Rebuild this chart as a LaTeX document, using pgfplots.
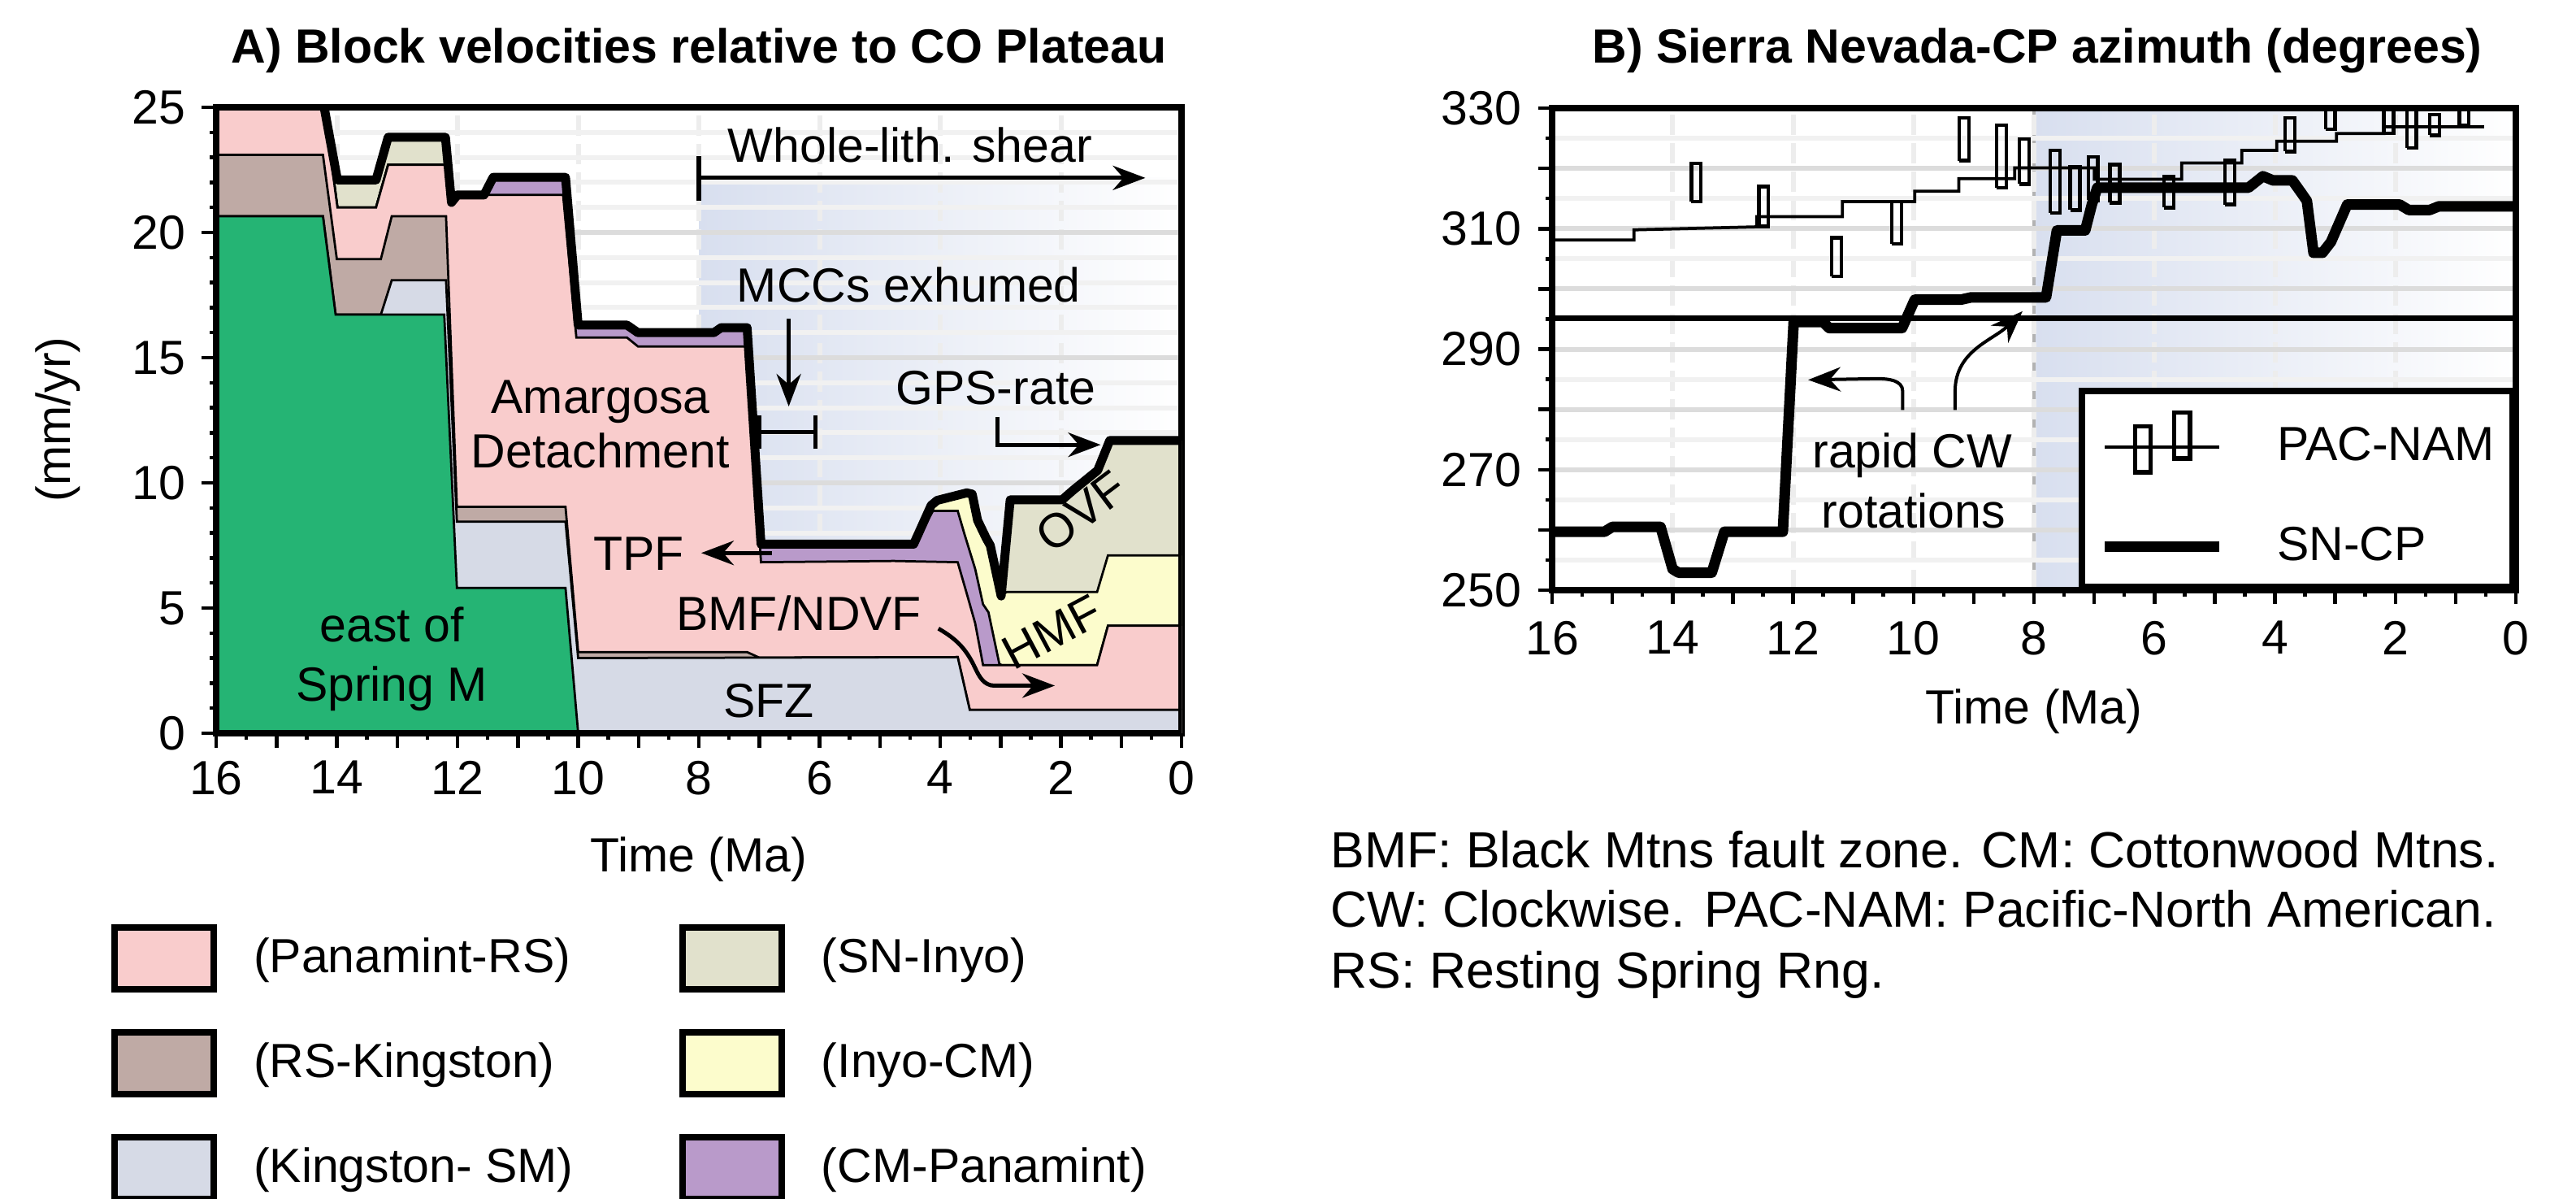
\documentclass[border=0pt]{standalone}
\usepackage{fontspec}
\setmainfont{Liberation Sans}
\usepackage{pgfplots}
\pgfplotsset{compat=1.18}
\usetikzlibrary{arrows.meta}

\definecolor{cGreen}{RGB}{37,180,116}
\definecolor{cPink}{RGB}{249,204,204}
\definecolor{cBrown}{RGB}{191,170,165}
\definecolor{cGrey}{RGB}{214,218,230}
\definecolor{cBeige}{RGB}{225,225,204}
\definecolor{cYellow}{RGB}{252,252,204}
\definecolor{cPurple}{RGB}{185,154,202}
\definecolor{cShade}{RGB}{216,223,239}
\definecolor{gridLight}{RGB}{241,241,241}
\definecolor{gridDark}{RGB}{220,220,220}
\newcommand\fs{\fontsize{11.8}{14}\selectfont}

\pgfplotsset{
  panel/.style={
    set layers,
    scale only axis, anchor=south west,
    x dir=reverse, xmin=0, xmax=16,
    xtick={0,2,...,16},
    extra x ticks={1,3,...,15}, extra x tick labels={},
    extra x tick style={grid=none},
    minor xtick={0.5,1.5,...,15.5},
    tick align=outside, xtick pos=bottom, ytick pos=left,
    major tick length=3.5pt, minor tick length=1.6pt,
    every tick/.append style={black, line width=0.9pt},
    axis line style={line width=1.6pt},
    /pgf/number format/assume math mode=true,
    xmajorgrids, ymajorgrids, yminorgrids,
    major x grid style={black!7, line width=1.2pt, dash pattern=on 5pt off 2pt},
    major y grid style={gridDark, line width=1.2pt},
    minor y grid style={gridLight, line width=1.2pt},
  },
  area/.style={forget plot, draw=black, line width=0.55pt},
}
\tikzset{arr/.style={line width=1pt, -{Stealth[length=8pt,width=6pt]}},
         arrB/.style={line width=0.8pt, -{Stealth[length=8pt,width=6pt]}}}

\begin{document}
\fs
\begin{tikzpicture}

% ---------------- Panel A ----------------
\begin{axis}[panel,
  at={(53.2pt,114.4pt)}, width=237.6pt, height=154pt,
  ymin=0, ymax=25, ytick={0,5,...,25}, minor y tick num=4,
  xticklabel style={yshift=0.8pt},
  legend image code/.code={\draw[line width=1.6pt, draw=black, #1] (0pt,-7.55pt) rectangle (24.5pt,7.55pt);},
  legend columns=2, legend cell align=left,
  legend style={at={(-0.1098,-0.3045)}, anchor=north west, draw=none, fill=none,
    inner sep=0pt, row sep=9.1pt, nodes={inner sep=0pt},
    /tikz/every odd column/.append style={column sep=9pt},
    /tikz/every even column/.append style={column sep=26pt}},
]
% whole-lithosphere shear window
\begin{pgfonlayer}{axis background}
\fill[left color=cShade, right color=white] (axis cs:8,0) rectangle (axis cs:0,22.2);
\end{pgfonlayer}

% SN-Inyo (top of stack)
\addplot[area, fill=cBeige] coordinates {
(16,25)(14.21,25)(13.99,22.1)(13.35,22.1)(13.15,23.8)(12.2,23.8)(12.1,21.2)(12.0,21.5)
(11.56,21.5)(11.41,22.2)(10.21,22.2)(10.0,16.3)(9.19,16.3)(9.01,16.0)(7.75,16.0)(7.63,16.2)
(7.2,16.2)(6.97,7.55)(4.44,7.55)(4.15,9.1)(4.05,9.3)(3.56,9.6)(3.47,9.55)(3.38,8.5)(3.24,7.8)
(3.17,7.5)(2.99,5.48)(2.84,9.32)(1.98,9.32)(1.8,9.7)(1.39,10.5)(1.19,11.69)(0,11.69)(0,0)(16,0)} -- cycle;
% Inyo-CM
\addplot[area, fill=cYellow] coordinates {
(16,25)(14.21,25)(13.99,21.0)(13.35,21.0)(13.15,22.7)(12.2,22.7)(12.1,21.2)(12.0,21.5)
(11.56,21.5)(11.41,22.2)(10.21,22.2)(10.0,16.3)(9.19,16.3)(9.01,16.0)(7.75,16.0)(7.63,16.2)
(7.2,16.2)(6.97,7.55)(4.44,7.55)(4.15,9.1)(4.05,9.3)(3.56,9.6)(3.47,9.55)(3.38,8.5)(3.24,7.8)
(3.17,7.5)(2.99,5.48)(2.9,5.64)(1.4,5.64)(1.22,7.1)(0,7.1)(0,0)(16,0)} -- cycle;
% CM-Panamint
\addplot[area, fill=cPurple] coordinates {
(16,25)(14.21,25)(13.99,21.0)(13.35,21.0)(13.15,22.7)(12.2,22.7)(12.1,21.2)(12.0,21.5)
(11.56,21.5)(11.41,22.1)(10.21,22.1)(10.0,16.2)(9.19,16.2)(9.01,15.9)(7.75,15.9)(7.63,16.1)
(7.2,16.1)(6.97,7.5)(4.44,7.5)(4.12,8.88)(3.71,8.88)(3.6,7.97)(3.42,6.56)(3.29,5.15)(3.2,4.83)
(3.02,2.77)(2.98,2.72)(1.4,2.72)(1.22,4.29)(0,4.29)(0,0)(16,0)} -- cycle;
% Panamint-RS
\addplot[area, fill=cPink] coordinates {
(16,25)(14.21,25)(13.99,21.0)(13.35,21.0)(13.15,22.7)(12.2,22.7)(12.1,21.2)(12.0,21.5)
(10.25,21.5)(10.03,15.8)(9.19,15.8)(9.01,15.45)(7.2,15.45)(6.97,6.83)(4.77,6.88)(3.71,6.83)
(3.56,5.58)(3.42,4.39)(3.29,2.72)(1.4,2.72)(1.22,4.29)(0,4.29)(0,0)(16,0)} -- cycle;
% RS-Kingston
\addplot[area, fill=cBrown] coordinates {
(16,23.1)(14.23,23.1)(14.0,18.94)(13.27,18.94)(13.09,20.65)(12.19,20.65)(12.01,9.04)(10.21,9.04)
(10.0,3.24)(7.2,3.24)(7.0,3.02)(3.71,3.04)(3.51,0.93)(0,0.93)(0,0)(16,0)} -- cycle;
% Kingston-SM
\addplot[area, fill=cGrey] coordinates {
(16,20.65)(14.23,20.65)(14.02,16.72)(13.27,16.72)(13.09,18.09)(12.19,18.09)(12.01,8.45)(10.21,8.45)
(10.0,3.0)(3.71,3.04)(3.51,0.93)(0,0.93)(0,0)(16,0)} -- cycle;
% east of Spring Mtns
\addplot[area, fill=cGreen] coordinates {
(16,20.65)(14.23,20.65)(14.02,16.72)(12.22,16.72)(12.01,5.8)(10.21,5.8)(10.0,0)(16,0)} -- cycle;

% total velocity
\addplot[forget plot, black, line width=2.2pt, line join=round] coordinates {
(14.21,25)(13.99,22.1)(13.35,22.1)(13.15,23.8)(12.2,23.8)(12.1,21.2)(12.0,21.5)
(11.56,21.5)(11.41,22.2)(10.21,22.2)(10.0,16.3)(9.19,16.3)(9.01,16.0)(7.75,16.0)(7.63,16.2)
(7.2,16.2)(6.97,7.55)(4.44,7.55)(4.15,9.1)(4.05,9.3)(3.56,9.6)(3.47,9.55)(3.38,8.5)(3.24,7.8)
(3.17,7.5)(2.99,5.48)(2.84,9.32)(1.98,9.32)(1.8,9.7)(1.39,10.5)(1.19,11.69)(0,11.69)};

% annotations
\draw[arr] (axis cs:8,22.18) -- (axis cs:0.6,22.18);
\draw[line width=1.2pt] (axis cs:8,21.25) -- (axis cs:8,23.04);
\node at (axis cs:4.5,23.5) {Whole-lith. shear};
\node at (axis cs:4.52,17.9) {MCCs exhumed};
\draw[arr] (axis cs:6.51,16.55) -- (axis cs:6.51,13.05);
\draw[line width=1pt] (axis cs:7.0,12.03) -- (axis cs:6.07,12.03);
\draw[line width=1pt] (axis cs:7.0,11.35) -- (axis cs:7.0,12.7);
\draw[line width=1pt] (axis cs:6.07,11.35) -- (axis cs:6.07,12.7);
\node at (axis cs:3.08,13.8) {GPS-rate};
\draw[arr] (axis cs:3.05,12.63) -- (axis cs:3.05,11.52) -- (axis cs:1.34,11.52);
\node[align=center, font=\fontsize{11.8}{13.4}\selectfont] at (axis cs:9.63,12.35) {Amargosa\\Detachment};
\node at (axis cs:9.0,7.17) {TPF};
\draw[arr] (axis cs:6.79,7.2) -- (axis cs:7.96,7.2);
\node at (axis cs:6.34,4.8) {BMF/NDVF};
\draw[arr] (axis cs:4.03,4.18) to[out=-30,in=115] (axis cs:3.42,2.6) to[out=-65,in=180] (axis cs:3.1,1.9) -- (axis cs:2.1,1.9);
\node at (axis cs:6.84,1.3) {SFZ};
\node[rotate=28] at (axis cs:2.15,4.05) {HMF};
\node[rotate=37] at (axis cs:1.66,8.85) {OVF};
\node[align=center, font=\fontsize{11.8}{14.6}\selectfont] at (axis cs:13.09,2.95) {east of\\Spring M};
\draw[line width=1.6pt] (rel axis cs:0,0) rectangle (rel axis cs:1,1);

% legend (row-major order)
\addlegendimage{fill=cPink}   \addlegendentry{(Panamint-RS)}
\addlegendimage{fill=cBeige}  \addlegendentry{(SN-Inyo)}
\addlegendimage{fill=cBrown}  \addlegendentry{(RS-Kingston)}
\addlegendimage{fill=cYellow} \addlegendentry{(Inyo-CM)}
\addlegendimage{fill=cGrey}   \addlegendentry{(Kingston- SM)}
\addlegendimage{fill=cPurple} \addlegendentry{(CM-Panamint)}
\end{axis}

% ---------------- Panel B ----------------
\begin{axis}[panel,
  at={(382pt,149.6pt)}, width=237.2pt, height=118.6pt,
  ymin=250, ymax=330, ytick={250,270,...,330},
  minor ytick={255,265,...,325},
  extra y ticks={260,280,300,320}, extra y tick labels={},
  extra y tick style={grid=major},
  legend cell align=left,
  legend style={at={(1,0)}, anchor=south east, draw=black, line width=1.6pt, fill=white,
    inner xsep=4.4pt, inner ysep=4.8pt, row sep=12.8pt, nodes={inner sep=0pt},
    /tikz/every odd column/.append style={column sep=13pt}},
]
\begin{pgfonlayer}{axis background}
\fill[left color=cShade, right color=white] (axis cs:8,250) rectangle (axis cs:0,330);
\draw[black!30, line width=0.7pt] (axis cs:8,250) -- (axis cs:8,330);
\end{pgfonlayer}

\addplot[forget plot, black, line width=1.5pt] coordinates {(16,295.1)(0,295.1)};

% PAC-NAM azimuth (step line)
\addplot[forget plot, black, line width=0.75pt] coordinates {
(16,308.1)(14.64,308.1)(14.64,309.8)(12.6,310.3)(12.6,312.0)(11.18,312.0)(11.18,314.5)
(9.98,314.5)(9.98,316.2)(9.25,316.2)(9.25,318.3)(8.32,318.3)(8.32,320.1)(7.0,320.1)
(7.0,318.2)(5.55,318.2)(5.55,320.9)(4.55,320.9)(4.55,323.0)(3.97,323.0)(3.97,324.5)
(2.98,324.5)(2.98,325.8)(2.19,325.8)(2.19,326.9)(0.53,326.9)};

% PAC-NAM uncertainty boxes
\addplot[forget plot, black, line width=0.9pt, unbounded coords=jump] coordinates {
(13.69,314.5)(13.53,314.5)(13.53,320.8)(13.69,320.8)(13.69,314.5)(13.61,nan)
(12.57,310.4)(12.41,310.4)(12.41,317.0)(12.57,317.0)(12.57,310.4)(12.49,nan)
(11.36,302.1)(11.20,302.1)(11.20,308.5)(11.36,308.5)(11.36,302.1)(11.28,nan)
(10.36,307.5)(10.20,307.5)(10.20,314.5)(10.36,314.5)(10.36,307.5)(10.28,nan)
(9.24,321.3)(9.08,321.3)(9.08,328.4)(9.24,328.4)(9.24,321.3)(9.16,nan)
(8.62,316.8)(8.46,316.8)(8.46,327.2)(8.62,327.2)(8.62,316.8)(8.54,nan)
(8.24,317.4)(8.08,317.4)(8.08,324.9)(8.24,324.9)(8.24,317.4)(8.16,nan)
(7.73,312.6)(7.57,312.6)(7.57,323.0)(7.73,323.0)(7.73,312.6)(7.65,nan)
(7.40,313.1)(7.24,313.1)(7.24,320.3)(7.40,320.3)(7.40,313.1)(7.32,nan)
(7.10,314.7)(6.94,314.7)(6.94,321.9)(7.10,321.9)(7.10,314.7)(7.02,nan)
(6.74,314.3)(6.58,314.3)(6.58,320.6)(6.74,320.6)(6.74,314.3)(6.66,nan)
(5.84,313.5)(5.68,313.5)(5.68,318.7)(5.84,318.7)(5.84,313.5)(5.76,nan)
(4.83,314.0)(4.67,314.0)(4.67,321.3)(4.83,321.3)(4.83,314.0)(4.75,nan)
(3.83,322.8)(3.67,322.8)(3.67,328.4)(3.83,328.4)(3.83,322.8)(3.75,nan)
(3.16,326.5)(3.00,326.5)(3.00,331)(3.16,331)(3.16,326.5)(3.08,nan)
(2.19,325.8)(2.03,325.8)(2.03,331)(2.19,331)(2.19,325.8)(2.11,nan)
(1.81,323.4)(1.65,323.4)(1.65,331)(1.81,331)(1.81,323.4)(1.73,nan)
(1.43,325.5)(1.27,325.5)(1.27,328.9)(1.43,328.9)(1.43,325.5)(1.35,nan)
(0.94,327.1)(0.78,327.1)(0.78,331)(0.94,331)(0.94,327.1)};

% SN-CP azimuth
\addplot[forget plot, black, line width=2.6pt, line join=round] coordinates {
(16,259.7)(15.13,259.7)(15.0,260.5)(14.2,260.5)(14.0,253.5)(13.9,252.9)(13.35,252.9)
(13.14,259.7)(12.17,259.7)(11.99,294.5)(11.5,294.5)(11.4,293.5)(10.19,293.5)(9.98,298.2)
(9.22,298.2)(9.04,298.6)(7.8,298.6)(7.62,309.7)(7.15,309.7)(7.04,314)(6.95,316.8)
(4.44,316.8)(4.2,318.7)(4.03,318)(3.71,318)(3.56,315.9)(3.47,314.6)(3.36,306)(3.21,306)
(3.07,307.8)(2.8,314)(1.93,314)(1.78,313.1)(1.43,313.1)(1.28,313.7)(0,313.7)};

\node at (axis cs:10.02,272.4) {rapid CW};
\node at (axis cs:10.0,263.1) {rotations};
\draw[arrB] (axis cs:10.18,279.9) -- (axis cs:10.18,283.0) to[out=90,in=0] (axis cs:10.6,285.1) -- (axis cs:11.75,284.9);
\draw[arrB] (axis cs:9.31,279.9) -- (axis cs:9.31,283.0) to[out=90,in=225] (axis cs:8.19,296.3);
\draw[line width=1.6pt] (rel axis cs:0,0) rectangle (rel axis cs:1,1);

\addlegendimage{legend image code/.code={
  \draw[line width=0.8pt] (0pt,0pt) -- (28.1pt,0pt);
  \draw[line width=1.1pt] (7.4pt,-6.25pt) rectangle (11.2pt,5.05pt);
  \draw[line width=1.1pt] (17pt,-2.76pt) rectangle (20.9pt,8.46pt);}}
\addlegendentry{PAC-NAM}
\addlegendimage{legend image code/.code={\draw[line width=2.6pt] (0pt,0pt) -- (28.1pt,0pt);}}
\addlegendentry{SN-CP}
\end{axis}

% titles, axis labels, notes
\node[anchor=base, font=\fs\bfseries] at (172pt,279.2pt) {A) Block velocities relative to CO Plateau};
\node[anchor=base, font=\fs\bfseries] at (501.4pt,279.2pt) {B) Sierra Nevada-CP azimuth (degrees)};
\node[anchor=base] at (172pt,80.4pt) {Time (Ma)};
\node[anchor=base] at (500.6pt,116.8pt) {Time (Ma)};
\node[rotate=90] at (14.2pt,191.6pt) {(mm/yr)};
\begin{scope}[every node/.style={anchor=base west, font=\fontsize{12.5}{15}\selectfont}]
\node at (323.4pt,81.3pt) {BMF: Black Mtns fault zone. CM: Cottonwood Mtns.};
\node at (323.4pt,66.7pt) {CW: Clockwise. PAC-NAM: Pacific-North American.};
\node at (323.4pt,51.7pt) {RS: Resting Spring Rng.};
\end{scope}
\pgfresetboundingbox
\useasboundingbox (0,0) rectangle (634pt,294.8pt);
\end{tikzpicture}
\end{document}
